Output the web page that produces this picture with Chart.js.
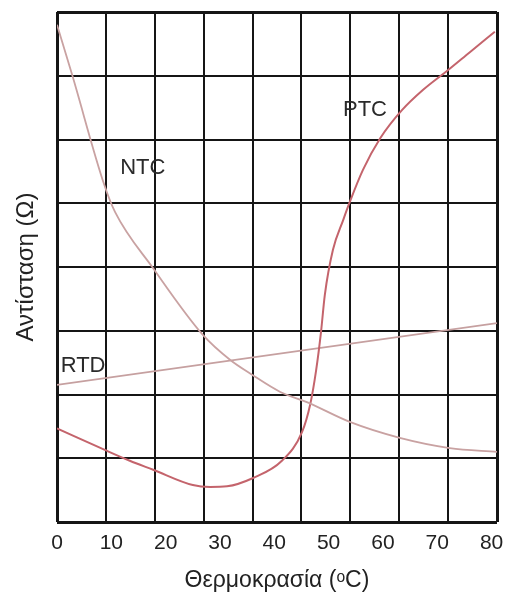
<!DOCTYPE html>
<html>
<head>
<meta charset="utf-8">
<script src="https://cdn.jsdelivr.net/npm/chart.js@4"></script>
<style>
  body { margin: 0; background: #fff; }
  #wrap { width: 506px; height: 600px; }
</style>
</head>
<body>
<div id="wrap"><canvas id="sensorChart"></canvas></div>
<script>
var tempTicks = [0, 10, 20, 30, 40, 50, 60, 70, 80];

var ntcTemp = [0, 2.8, 8.7, 10.7, 17.7, 26.9, 31.9, 35.9, 41.1, 46.0, 53.9, 63.1, 72.3, 81];
var ntcRes  = [7.80, 7.01, 5.29, 4.86, 3.98, 2.93, 2.54, 2.31, 2.04, 1.88, 1.57, 1.32, 1.16, 1.10];

var ptcTemp = [0, 8.8, 13.4, 17.7, 25.0, 28.2, 31.3, 36.1, 41.4, 45.1, 46.6, 47.7, 48.6, 49.3, 50.8, 52.7, 53.9, 56.3, 59.5, 63.5, 67.4, 72.0, 76.0, 80.6];
var ptcRes  = [1.47, 1.13, 0.96, 0.82, 0.58, 0.55, 0.56, 0.69, 0.96, 1.41, 1.84, 2.38, 2.98, 3.56, 4.27, 4.74, 5.02, 5.52, 6.02, 6.46, 6.78, 7.09, 7.37, 7.69];

var rtdTemp = [0, 81];
var rtdRes  = [2.15, 3.12];

var curveNames = ['NTC', 'PTC', 'RTD'];
var nameTemp = [15.8, 56.7, 4.8];
var nameRes  = [5.55, 6.46, 2.45];

function toPoints(xs, ys) {
    return xs.map(function (x, i) { return { x: x, y: ys[i] }; });
}

var fontFam = '"Liberation Sans", Arial, sans-serif';

var curveLabels = {
    id: 'curveLabels',
    afterDatasetsDraw: function (chart) {
        var ctx = chart.ctx;
        var xs = chart.scales.x, ys = chart.scales.y;
        ctx.save();
        ctx.font = '22px ' + fontFam;
        ctx.fillStyle = '#2a2a2a';
        ctx.textAlign = 'center';
        ctx.textBaseline = 'middle';
        curveNames.forEach(function (name, i) {
            ctx.fillText(name, xs.getPixelForValue(nameTemp[i]), ys.getPixelForValue(nameRes[i]));
        });
        ctx.restore();
    }
};

function edgeWidth(maxVal) {
    return function (c) {
        var v = c.tick ? c.tick.value : null;
        return (v === 0 || v === maxVal) ? 3 : 2;
    };
}

var ctx = document.getElementById('sensorChart').getContext('2d');
var sensorChart = new Chart(ctx, {
    type: 'line',
    data: {
        datasets: [{
            label: 'NTC',
            data: toPoints(ntcTemp, ntcRes),
            borderColor: '#c9a2a2',
            borderWidth: 1.8,
            cubicInterpolationMode: 'monotone',
            pointRadius: 0
        }, {
            label: 'PTC',
            data: toPoints(ptcTemp, ptcRes),
            borderColor: '#c4646c',
            borderWidth: 2,
            cubicInterpolationMode: 'monotone',
            pointRadius: 0
        }, {
            label: 'RTD',
            data: toPoints(rtdTemp, rtdRes),
            borderColor: '#c6a0a0',
            borderWidth: 1.8,
            pointRadius: 0
        }]
    },
    options: {
        responsive: true,
        maintainAspectRatio: false,
        animation: false,
        layout: { padding: { right: 9 } },
        plugins: {
            legend: { display: false },
            tooltip: { enabled: false }
        },
        scales: {
            x: {
                type: 'linear',
                position: 'bottom',
                min: 0,
                max: 81,
                afterBuildTicks: function (s) {
                    s.ticks = tempTicks.map(function (v) { return { value: v }; });
                },
                afterFit: function (s) { s.height = 78; },
                grid: { display: false },
                border: { display: false },
                ticks: {
                    color: '#222',
                    font: { size: 21, family: fontFam },
                    padding: 1,
                    maxRotation: 0,
                    autoSkip: false
                },
                title: {
                    display: true,
                    text: 'Θερμοκρασία (ᵒC)',
                    color: '#222',
                    font: { size: 23, family: fontFam },
                    padding: { top: 0, bottom: 6 }
                }
            },
            xg: {
                type: 'linear',
                position: 'top',
                min: 0,
                max: 9,
                ticks: { display: false, stepSize: 1 },
                afterFit: function (s) { s.height = 12; },
                border: { display: false },
                grid: { color: '#151515', lineWidth: edgeWidth(9), drawTicks: false }
            },
            y: {
                min: 0,
                max: 8,
                ticks: { display: false, stepSize: 1 },
                afterFit: function (s) { s.width = 57; },
                border: { display: false },
                grid: { color: '#151515', lineWidth: edgeWidth(8), drawTicks: false },
                title: {
                    display: true,
                    text: 'Αντίσταση (Ω)',
                    color: '#222',
                    font: { size: 24, family: fontFam },
                    padding: { top: 12, bottom: 0 }
                }
            }
        }
    },
    plugins: [curveLabels]
});
</script>
</body>
</html>
